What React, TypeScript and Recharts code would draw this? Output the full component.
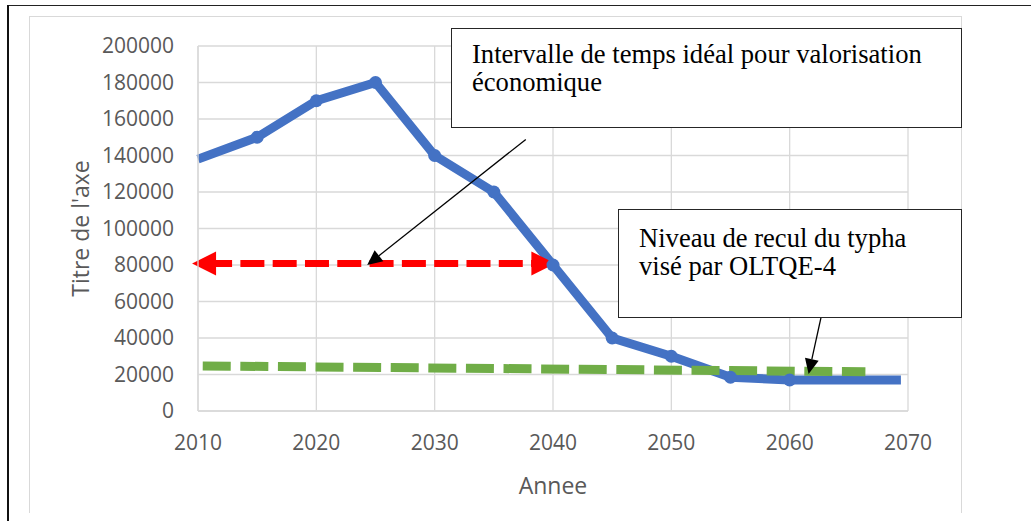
import { CartesianGrid, Line, LineChart, ReferenceLine, XAxis, YAxis } from "recharts";

const YEAR_TICKS = [2010, 2020, 2030, 2040, 2050, 2060, 2070];
const VALUE_TICKS = [0, 20000, 40000, 60000, 80000, 100000, 120000, 140000, 160000, 180000, 200000];

// surface du typha (série bleue)
const typhaYears = [2010, 2015, 2020, 2025, 2030, 2035, 2040, 2045, 2050, 2055, 2060, 2069.4];
const typhaValues = [138000, 150000, 170000, 180000, 140000, 120000, 80000, 40000, 30000, 18500, 17000, 17000];

// niveau visé (pointillé vert)
const targetYears = [2010.4, 2066.4];
const targetValues = [24700, 21500];

// intervalle idéal (double flèche rouge)
const intervalYears = [2009.5, 2040.2];
const intervalValues = [80800, 80800];

// flèches des annotations
const pointerIntervalYears = [2037.7, 2024.3];
const pointerIntervalValues = [148800, 80000];
const pointerTargetYears = [2062.65, 2061.6];
const pointerTargetValues = [51300, 20300];

const typhaData = typhaYears.map((year, i) => ({ year, value: typhaValues[i] }));
const targetData = targetYears.map((year, i) => ({ year, value: targetValues[i] }));

const BLUE = "#4472C4";
const GREEN = "#70AD47";
const RED = "#FF0000";
const GRID = "#d9d9d9";
const TICK = { fill: "#595959", fontSize: 21, fontFamily: "Open Sans" };

function BlueDot(props: any) {
  const { cx, cy, index } = props;
  if (index === 0 || index === typhaData.length - 1) return <g key={index} />;
  return <circle key={index} cx={cx} cy={cy} r={6.5} fill={BLUE} />;
}

function DoubleArrow(props: any) {
  const { x1, y1, x2, y2 } = props;
  const len = 24;
  const half = 12;
  return (
    <g>
      <line
        x1={x1 + len - 3}
        y1={y1}
        x2={x2 - len + 3}
        y2={y2}
        stroke={RED}
        strokeWidth={7}
        strokeDasharray="24 8.3"
        strokeDashoffset={5}
      />
      <polygon points={`${x1},${y1} ${x1 + len},${y1 - half} ${x1 + len},${y1 + half}`} fill={RED} />
      <polygon points={`${x2},${y2} ${x2 - len},${y2 - half} ${x2 - len},${y2 + half}`} fill={RED} />
    </g>
  );
}

function Pointer(props: any) {
  const { x1, y1, x2, y2 } = props;
  const dx = x2 - x1;
  const dy = y2 - y1;
  const d = Math.sqrt(dx * dx + dy * dy);
  const ux = dx / d;
  const uy = dy / d;
  const len = 15;
  const half = 7;
  const bx = x2 - ux * len;
  const by = y2 - uy * len;
  return (
    <g>
      <line x1={x1} y1={y1} x2={bx} y2={by} stroke="#000" strokeWidth={1.3} />
      <polygon
        points={`${x2},${y2} ${bx - uy * half},${by + ux * half} ${bx + uy * half},${by - ux * half}`}
        fill="#000"
      />
    </g>
  );
}

const boxStyle: React.CSSProperties = {
  position: "absolute",
  boxSizing: "border-box",
  background: "#fff",
  border: "1.5px solid #262626",
  fontFamily: "'Liberation Serif', 'Times New Roman', serif",
  fontSize: 26.6,
  lineHeight: "28.5px",
  color: "#000",
  paddingLeft: 20,
  whiteSpace: "nowrap",
};

export default function App() {
  return (
    <div style={{ position: "absolute", left: 0, top: 0, width: 1031, height: 521, background: "#fff", overflow: "hidden" }}>
      {/* cadres */}
      <div style={{ position: "absolute", left: 8, top: 5, width: 1023, height: 0, borderTop: "1.5px solid #222" }} />
      <div style={{ position: "absolute", left: 7, top: 5, width: 0, height: 516, borderLeft: "2px solid #111" }} />
      <div
        style={{
          position: "absolute",
          left: 29,
          top: 16,
          width: 933,
          height: 497,
          borderTop: "1.3px solid #d9d9d9",
          borderLeft: "1.3px solid #d9d9d9",
          borderRight: "1.3px solid #d9d9d9",
          boxSizing: "border-box",
        }}
      />
      <div style={{ position: "absolute", left: 0, top: 0 }}>
        <LineChart width={1031} height={521} margin={{ top: 46, right: 123, bottom: 0, left: 0 }}>
          <CartesianGrid stroke={GRID} strokeWidth={1.3} />
          <XAxis
            dataKey="year"
            type="number"
            domain={[2010, 2070]}
            ticks={YEAR_TICKS}
            height={110}
            tick={TICK}
            tickLine={false}
            tickSize={0}
            tickMargin={24}
            axisLine={{ stroke: GRID, strokeWidth: 1.3 }}
            allowDuplicatedCategory={false}
            label={{
              content: (p: any) => (
                <text
                  x={p.viewBox.x + p.viewBox.width / 2}
                  y={p.viewBox.y + 82.5}
                  textAnchor="middle"
                  fill="#595959"
                  fontSize={23}
                  fontFamily="Open Sans"
                >
                  Annee
                </text>
              ),
            }}
          />
          <YAxis
            type="number"
            domain={[0, 200000]}
            ticks={VALUE_TICKS}
            width={198}
            tick={TICK}
            tickLine={false}
            tickSize={0}
            tickMargin={24}
            axisLine={{ stroke: GRID, strokeWidth: 1.3 }}
            label={{
              content: (p: any) => {
                const x = p.viewBox.x + 89;
                const y = p.viewBox.y + p.viewBox.height / 2;
                return (
                  <text
                    x={x}
                    y={y}
                    transform={`rotate(-90 ${x} ${y})`}
                    textAnchor="middle"
                    fill="#595959"
                    fontSize={23}
                    fontFamily="Open Sans"
                  >
                    Titre de l'axe
                  </text>
                );
              },
            }}
          />
          <Line
            data={typhaData}
            dataKey="value"
            stroke={BLUE}
            strokeWidth={9}
            strokeLinejoin="round"
            dot={BlueDot}
            activeDot={false}
            isAnimationActive={false}
          />
          <Line
            data={targetData}
            dataKey="value"
            stroke={GREEN}
            strokeWidth={9}
            strokeDasharray="28 9.6"
            dot={false}
            activeDot={false}
            isAnimationActive={false}
          />
          <ReferenceLine
            segment={[
              { x: intervalYears[0], y: intervalValues[0] },
              { x: intervalYears[1], y: intervalValues[1] },
            ]}
            ifOverflow="visible"
            shape={DoubleArrow}
          />
          <ReferenceLine
            segment={[
              { x: pointerIntervalYears[0], y: pointerIntervalValues[0] },
              { x: pointerIntervalYears[1], y: pointerIntervalValues[1] },
            ]}
            ifOverflow="visible"
            shape={Pointer}
          />
          <ReferenceLine
            segment={[
              { x: pointerTargetYears[0], y: pointerTargetValues[0] },
              { x: pointerTargetYears[1], y: pointerTargetValues[1] },
            ]}
            ifOverflow="visible"
            shape={Pointer}
          />
        </LineChart>
      </div>
      <div style={{ ...boxStyle, left: 451, top: 28, width: 511, height: 100, paddingTop: 10.5 }}>
        Intervalle de temps idéal pour valorisation
        <br />
        économique
      </div>
      <div style={{ ...boxStyle, left: 618, top: 209, width: 344, height: 109, paddingTop: 13.5 }}>
        Niveau de recul du typha
        <br />
        visé par OLTQE-4
      </div>
    </div>
  );
}
